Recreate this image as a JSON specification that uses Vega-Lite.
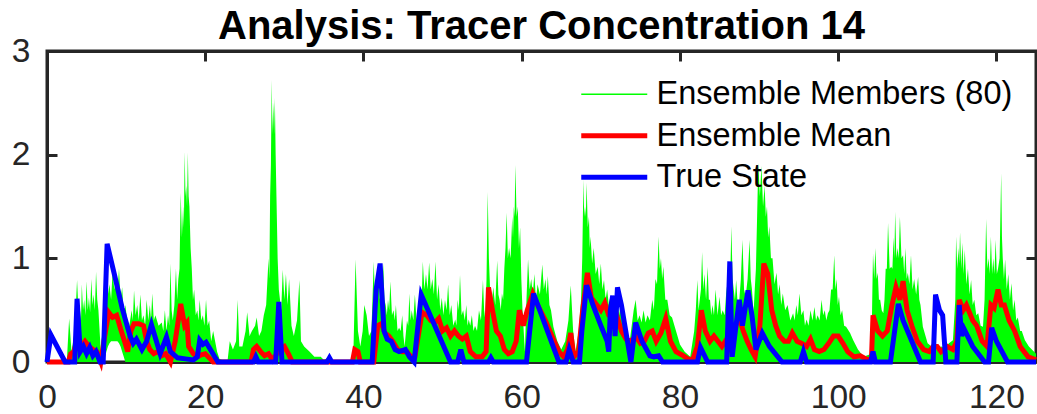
{
  "$schema": "https://vega.github.io/schema/vega-lite/v6.json",
  "width": 989,
  "height": 311,
  "autosize": {"type": "none"},
  "padding": {"left": 47, "top": 51, "right": 1, "bottom": 52},
  "background": "white",
  "title": {"text": "Analysis: Tracer Concentration 14", "fontSize": 40, "fontWeight": "bold", "font": "Liberation Sans", "color": "black", "anchor": "middle", "frame": "group", "offset": -13},
  "config": {"view": {"stroke": "#262626", "strokeWidth": 3}, "font": "Liberation Sans",
    "legend": {"orient": "none", "legendX": 551, "legendY": 27, "title": null, "padding": 0,
               "symbolType": "M-3,0H3", "symbolSize": 484,
               "labelFontSize": 32.5, "labelFont": "Liberation Sans", "labelColor": "black", "labelOffset": 26, "labelLimit": 600, "rowPadding": 8.5}},
  "datasets": {
    "ens": [
      {"x":0,"hi":0,"lo":0},{"x":2.5,"hi":0,"lo":0},{"x":2.8,"hi":0.42,"lo":0},{"x":3.1,"hi":0.1,"lo":0},{"x":3.5,"hi":0.3,"lo":0},{"x":3.8,"hi":0.79,"lo":0},{"x":4.0,"hi":0.45,"lo":0},{"x":4.1,"hi":0.55,"lo":0},{"x":4.3,"hi":0.4,"lo":0},{"x":4.4,"hi":0.75,"lo":0},{"x":4.55,"hi":0.5,"lo":0},{"x":4.7,"hi":0.6,"lo":0},{"x":4.85,"hi":0.45,"lo":0},{"x":5,"hi":0.78,"lo":0},{"x":5.15,"hi":0.5,"lo":0},{"x":5.3,"hi":0.62,"lo":0},{"x":5.45,"hi":0.48,"lo":0},{"x":5.6,"hi":0.8,"lo":0},{"x":5.75,"hi":0.55,"lo":0},{"x":5.9,"hi":0.65,"lo":0},{"x":6.05,"hi":0.5,"lo":0},{"x":6.2,"hi":0.87,"lo":0},{"x":6.35,"hi":0.6,"lo":0},{"x":6.5,"hi":0.5,"lo":0},{"x":6.8,"hi":0.1,"lo":0},{"x":7.2,"hi":0.5,"lo":0},{"x":7.35,"hi":0.7,"lo":0.05},{"x":7.5,"hi":0.85,"lo":0.1},{"x":7.7,"hi":0.65,"lo":0.15},{"x":7.9,"hi":0.75,"lo":0.18},{"x":8.1,"hi":0.6,"lo":0.2},{"x":8.3,"hi":0.88,"lo":0.2},{"x":8.5,"hi":0.7,"lo":0.2},{"x":8.7,"hi":0.8,"lo":0.2},{"x":8.9,"hi":0.65,"lo":0.2},{"x":9.1,"hi":0.9,"lo":0.18},{"x":9.3,"hi":0.6,"lo":0.15},{"x":9.5,"hi":0.72,"lo":0.1},{"x":9.7,"hi":0.45,"lo":0.05},{"x":9.9,"hi":0.55,"lo":0},{"x":10.3,"hi":0.3,"lo":0},{"x":10.7,"hi":0.5,"lo":0},{"x":10.85,"hi":0.4,"lo":0},{"x":11,"hi":0.69,"lo":0},{"x":11.2,"hi":0.45,"lo":0},{"x":11.4,"hi":0.55,"lo":0},{"x":11.6,"hi":0.4,"lo":0},{"x":11.8,"hi":0.65,"lo":0},{"x":12,"hi":0.4,"lo":0},{"x":12.2,"hi":0.45,"lo":0},{"x":12.4,"hi":0.35,"lo":0},{"x":12.6,"hi":0.6,"lo":0},{"x":12.8,"hi":0.4,"lo":0},{"x":13,"hi":0.55,"lo":0},{"x":13.15,"hi":0.4,"lo":0},{"x":13.3,"hi":0.66,"lo":0},{"x":13.5,"hi":0.4,"lo":0},{"x":13.7,"hi":0.45,"lo":0},{"x":14.1,"hi":0.35,"lo":0},{"x":14.5,"hi":0.38,"lo":0},{"x":14.7,"hi":0.3,"lo":0},{"x":14.9,"hi":0.5,"lo":0},{"x":15.1,"hi":0.3,"lo":0},{"x":15.3,"hi":0.45,"lo":0},{"x":15.45,"hi":0.35,"lo":0},{"x":15.6,"hi":0.95,"lo":0},{"x":15.75,"hi":0.5,"lo":0},{"x":15.9,"hi":0.4,"lo":0},{"x":16.1,"hi":0.55,"lo":0},{"x":16.3,"hi":0.9,"lo":0},{"x":16.45,"hi":0.6,"lo":0},{"x":16.6,"hi":0.8,"lo":0},{"x":16.75,"hi":0.9,"lo":0},{"x":16.9,"hi":1.63,"lo":0},{"x":17.05,"hi":1.2,"lo":0},{"x":17.2,"hi":1.5,"lo":0},{"x":17.3,"hi":1.3,"lo":0},{"x":17.4,"hi":2.03,"lo":0},{"x":17.5,"hi":1.6,"lo":0},{"x":17.6,"hi":1.7,"lo":0},{"x":17.7,"hi":1.5,"lo":0},{"x":17.8,"hi":2.02,"lo":0},{"x":17.9,"hi":1.6,"lo":0},{"x":18,"hi":1.5,"lo":0},{"x":18.15,"hi":1.1,"lo":0},{"x":18.3,"hi":0.9,"lo":0},{"x":18.45,"hi":0.6,"lo":0},{"x":18.6,"hi":0.7,"lo":0},{"x":18.8,"hi":0.45,"lo":0},{"x":19,"hi":0.5,"lo":0},{"x":19.15,"hi":0.4,"lo":0},{"x":19.3,"hi":0.6,"lo":0},{"x":19.5,"hi":0.4,"lo":0},{"x":19.7,"hi":0.45,"lo":0},{"x":19.9,"hi":0.35,"lo":0},{"x":20.1,"hi":0.6,"lo":0},{"x":20.3,"hi":0.35,"lo":0},{"x":20.5,"hi":0.4,"lo":0},{"x":20.75,"hi":0.2,"lo":0},{"x":21,"hi":0.3,"lo":0},{"x":21.5,"hi":0.1,"lo":0},{"x":21.8,"hi":0.03,"lo":0},{"x":22.8,"hi":0,"lo":0},{"x":23.1,"hi":0.2,"lo":0},{"x":23.5,"hi":0.12,"lo":0},{"x":23.9,"hi":0.2,"lo":0},{"x":24.1,"hi":0.6,"lo":0},{"x":24.3,"hi":0.15,"lo":0},{"x":24.7,"hi":0.15,"lo":0},{"x":25.1,"hi":0.3,"lo":0},{"x":25.3,"hi":0.48,"lo":0},{"x":25.6,"hi":0.25,"lo":0},{"x":25.9,"hi":0.3,"lo":0},{"x":26.3,"hi":0.35,"lo":0},{"x":26.5,"hi":0.43,"lo":0},{"x":26.8,"hi":0.25,"lo":0},{"x":27.1,"hi":0.3,"lo":0},{"x":27.4,"hi":0.45,"lo":0},{"x":27.7,"hi":0.55,"lo":0},{"x":28,"hi":1.0,"lo":0},{"x":28.1,"hi":0.8,"lo":0},{"x":28.2,"hi":1.6,"lo":0},{"x":28.3,"hi":1.9,"lo":0},{"x":28.4,"hi":2.72,"lo":0},{"x":28.5,"hi":2.2,"lo":0},{"x":28.6,"hi":2.5,"lo":0},{"x":28.7,"hi":2.2,"lo":0},{"x":28.8,"hi":2.55,"lo":0},{"x":28.9,"hi":2.0,"lo":0},{"x":29,"hi":1.6,"lo":0},{"x":29.15,"hi":1.0,"lo":0},{"x":29.3,"hi":0.7,"lo":0},{"x":29.6,"hi":0.5,"lo":0},{"x":29.8,"hi":0.89,"lo":0},{"x":30,"hi":0.6,"lo":0},{"x":30.2,"hi":0.85,"lo":0},{"x":30.4,"hi":0.55,"lo":0},{"x":30.6,"hi":0.8,"lo":0},{"x":30.9,"hi":0.35,"lo":0},{"x":31.2,"hi":0.25,"lo":0},{"x":31.6,"hi":0.4,"lo":0},{"x":31.9,"hi":0.79,"lo":0},{"x":32.1,"hi":0.2,"lo":0},{"x":32.5,"hi":0.15,"lo":0},{"x":33.2,"hi":0.1,"lo":0},{"x":33.8,"hi":0.05,"lo":0},{"x":34.6,"hi":0.05,"lo":0},{"x":35,"hi":0.02,"lo":0},{"x":35.7,"hi":0.05,"lo":0},{"x":36.2,"hi":0,"lo":0},{"x":38.7,"hi":0,"lo":0},{"x":39,"hi":0.99,"lo":0},{"x":39.3,"hi":0.3,"lo":0},{"x":39.6,"hi":0.15,"lo":0},{"x":39.9,"hi":0.3,"lo":0},{"x":40.1,"hi":0.55,"lo":0},{"x":40.4,"hi":0.45,"lo":0},{"x":40.7,"hi":0.25,"lo":0},{"x":41,"hi":0.3,"lo":0},{"x":41.3,"hi":0.97,"lo":0},{"x":41.45,"hi":0.6,"lo":0},{"x":41.6,"hi":0.75,"lo":0},{"x":41.75,"hi":0.55,"lo":0},{"x":41.9,"hi":0.9,"lo":0},{"x":42.05,"hi":0.6,"lo":0},{"x":42.2,"hi":0.7,"lo":0},{"x":42.35,"hi":0.6,"lo":0},{"x":42.5,"hi":0.95,"lo":0},{"x":42.65,"hi":0.6,"lo":0},{"x":42.8,"hi":0.55,"lo":0},{"x":42.95,"hi":0.45,"lo":0},{"x":43.1,"hi":0.6,"lo":0},{"x":43.25,"hi":0.5,"lo":0},{"x":43.4,"hi":0.78,"lo":0},{"x":43.6,"hi":0.45,"lo":0},{"x":43.8,"hi":0.5,"lo":0},{"x":43.95,"hi":0.4,"lo":0},{"x":44.1,"hi":0.55,"lo":0},{"x":44.3,"hi":0.3,"lo":0},{"x":44.5,"hi":0.33,"lo":0},{"x":44.7,"hi":0.3,"lo":0},{"x":44.9,"hi":0.45,"lo":0},{"x":45.05,"hi":0.25,"lo":0},{"x":45.2,"hi":0.15,"lo":0},{"x":45.5,"hi":0.4,"lo":0},{"x":45.65,"hi":0.35,"lo":0},{"x":45.8,"hi":0.66,"lo":0},{"x":45.95,"hi":0.4,"lo":0},{"x":46.1,"hi":0.5,"lo":0},{"x":46.3,"hi":0.4,"lo":0},{"x":46.5,"hi":0.65,"lo":0},{"x":46.7,"hi":0.4,"lo":0},{"x":46.9,"hi":0.3,"lo":0},{"x":47.2,"hi":0.7,"lo":0},{"x":47.35,"hi":0.6,"lo":0},{"x":47.5,"hi":0.97,"lo":0},{"x":47.7,"hi":0.7,"lo":0},{"x":47.9,"hi":0.85,"lo":0},{"x":48.1,"hi":0.7,"lo":0},{"x":48.3,"hi":0.96,"lo":0},{"x":48.5,"hi":0.7,"lo":0},{"x":48.7,"hi":0.8,"lo":0},{"x":48.9,"hi":0.65,"lo":0},{"x":49.1,"hi":0.97,"lo":0},{"x":49.3,"hi":0.6,"lo":0},{"x":49.5,"hi":0.75,"lo":0},{"x":49.7,"hi":0.5,"lo":0},{"x":49.9,"hi":0.62,"lo":0},{"x":50.1,"hi":0.45,"lo":0},{"x":50.3,"hi":0.6,"lo":0},{"x":50.5,"hi":0.5,"lo":0},{"x":50.7,"hi":0.75,"lo":0},{"x":50.9,"hi":0.45,"lo":0},{"x":51.1,"hi":0.55,"lo":0},{"x":51.35,"hi":0.35,"lo":0},{"x":51.6,"hi":0.41,"lo":0},{"x":51.75,"hi":0.35,"lo":0},{"x":51.9,"hi":0.6,"lo":0},{"x":52.05,"hi":0.5,"lo":0},{"x":52.2,"hi":0.84,"lo":0},{"x":52.4,"hi":0.45,"lo":0},{"x":52.6,"hi":0.5,"lo":0},{"x":52.8,"hi":0.4,"lo":0},{"x":53,"hi":0.55,"lo":0},{"x":53.15,"hi":0.35,"lo":0},{"x":53.3,"hi":0.41,"lo":0},{"x":53.5,"hi":0.35,"lo":0},{"x":53.7,"hi":0.45,"lo":0},{"x":53.9,"hi":0.3,"lo":0},{"x":54.1,"hi":0.35,"lo":0},{"x":54.35,"hi":0.3,"lo":0},{"x":54.6,"hi":0.5,"lo":0},{"x":54.85,"hi":0.4,"lo":0},{"x":55.1,"hi":0.79,"lo":0},{"x":55.25,"hi":0.5,"lo":0},{"x":55.4,"hi":0.4,"lo":0},{"x":55.55,"hi":0.8,"lo":0},{"x":55.7,"hi":1.64,"lo":0},{"x":55.85,"hi":1.0,"lo":0},{"x":56,"hi":0.7,"lo":0},{"x":56.2,"hi":0.55,"lo":0},{"x":56.4,"hi":0.72,"lo":0},{"x":56.65,"hi":0.55,"lo":0},{"x":56.9,"hi":0.98,"lo":0},{"x":57.05,"hi":0.65,"lo":0},{"x":57.2,"hi":0.6,"lo":0},{"x":57.35,"hi":0.5,"lo":0},{"x":57.5,"hi":0.66,"lo":0},{"x":57.65,"hi":0.6,"lo":0},{"x":57.8,"hi":0.9,"lo":0},{"x":57.95,"hi":1.1,"lo":0},{"x":58.1,"hi":1.44,"lo":0},{"x":58.25,"hi":1.0,"lo":0},{"x":58.4,"hi":1.1,"lo":0},{"x":58.6,"hi":1.0,"lo":0},{"x":58.8,"hi":1.4,"lo":0},{"x":58.9,"hi":1.2,"lo":0},{"x":59,"hi":1.5,"lo":0},{"x":59.1,"hi":1.4,"lo":0},{"x":59.2,"hi":1.9,"lo":0},{"x":59.35,"hi":1.4,"lo":0},{"x":59.5,"hi":1.5,"lo":0},{"x":59.65,"hi":1.1,"lo":0},{"x":59.8,"hi":1.3,"lo":0},{"x":59.95,"hi":0.8,"lo":0},{"x":60.1,"hi":0.5,"lo":0},{"x":60.4,"hi":0.1,"lo":0},{"x":60.6,"hi":0.6,"lo":0},{"x":60.8,"hi":0.99,"lo":0},{"x":61,"hi":0.7,"lo":0},{"x":61.2,"hi":0.8,"lo":0},{"x":61.4,"hi":0.65,"lo":0},{"x":61.6,"hi":0.85,"lo":0},{"x":61.8,"hi":0.6,"lo":0},{"x":62,"hi":0.75,"lo":0},{"x":62.3,"hi":0.65,"lo":0},{"x":62.6,"hi":0.94,"lo":0},{"x":62.8,"hi":0.7,"lo":0},{"x":63,"hi":0.8,"lo":0},{"x":63.15,"hi":0.65,"lo":0},{"x":63.3,"hi":0.83,"lo":0},{"x":63.5,"hi":0.55,"lo":0},{"x":63.7,"hi":0.5,"lo":0},{"x":64,"hi":0.34,"lo":0},{"x":64.5,"hi":0.2,"lo":0},{"x":65,"hi":0.12,"lo":0},{"x":65.5,"hi":0.2,"lo":0},{"x":65.9,"hi":0.4,"lo":0},{"x":66.2,"hi":0.74,"lo":0},{"x":66.5,"hi":0.3,"lo":0},{"x":66.8,"hi":0.1,"lo":0},{"x":67.2,"hi":0.3,"lo":0},{"x":67.5,"hi":0.6,"lo":0},{"x":67.65,"hi":1.0,"lo":0},{"x":67.8,"hi":1.76,"lo":0},{"x":67.9,"hi":1.4,"lo":0},{"x":68,"hi":1.5,"lo":0},{"x":68.1,"hi":1.4,"lo":0},{"x":68.2,"hi":1.73,"lo":0},{"x":68.35,"hi":1.3,"lo":0},{"x":68.5,"hi":1.4,"lo":0},{"x":68.6,"hi":1.1,"lo":0},{"x":68.7,"hi":1.21,"lo":0},{"x":68.9,"hi":0.95,"lo":0},{"x":69.1,"hi":1.1,"lo":0},{"x":69.35,"hi":0.85,"lo":0},{"x":69.6,"hi":0.92,"lo":0},{"x":69.8,"hi":0.75,"lo":0},{"x":70,"hi":0.95,"lo":0},{"x":70.2,"hi":0.7,"lo":0},{"x":70.4,"hi":0.79,"lo":0},{"x":70.6,"hi":0.6,"lo":0},{"x":70.8,"hi":0.7,"lo":0},{"x":71,"hi":0.55,"lo":0},{"x":71.2,"hi":0.63,"lo":0},{"x":71.4,"hi":0.5,"lo":0},{"x":71.6,"hi":0.65,"lo":0},{"x":71.85,"hi":0.5,"lo":0},{"x":72.1,"hi":0.6,"lo":0},{"x":72.3,"hi":0.45,"lo":0},{"x":72.5,"hi":0.55,"lo":0},{"x":72.7,"hi":0.38,"lo":0},{"x":72.9,"hi":0.43,"lo":0},{"x":73.2,"hi":0.3,"lo":0},{"x":73.5,"hi":0.11,"lo":0},{"x":73.9,"hi":0.35,"lo":0},{"x":74.15,"hi":0.5,"lo":0},{"x":74.4,"hi":0.6,"lo":0},{"x":74.65,"hi":0.4,"lo":0},{"x":74.9,"hi":0.45,"lo":0},{"x":75.15,"hi":0.38,"lo":0},{"x":75.4,"hi":0.5,"lo":0},{"x":75.65,"hi":0.38,"lo":0},{"x":75.9,"hi":0.45,"lo":0},{"x":76.2,"hi":0.4,"lo":0},{"x":76.5,"hi":0.6,"lo":0},{"x":76.7,"hi":0.5,"lo":0},{"x":76.9,"hi":0.8,"lo":0},{"x":77.1,"hi":0.75,"lo":0},{"x":77.3,"hi":1.21,"lo":0},{"x":77.45,"hi":0.9,"lo":0},{"x":77.6,"hi":1.0,"lo":0},{"x":77.75,"hi":0.8,"lo":0},{"x":77.9,"hi":0.92,"lo":0},{"x":78.15,"hi":0.6,"lo":0},{"x":78.4,"hi":0.6,"lo":0},{"x":78.7,"hi":0.45,"lo":0},{"x":79,"hi":0.43,"lo":0},{"x":79.5,"hi":0.3,"lo":0},{"x":80,"hi":0.17,"lo":0},{"x":80.6,"hi":0.1,"lo":0},{"x":81.3,"hi":0.05,"lo":0},{"x":81.8,"hi":0.3,"lo":0},{"x":82,"hi":0.5,"lo":0},{"x":82.2,"hi":0.79,"lo":0},{"x":82.35,"hi":0.5,"lo":0},{"x":82.5,"hi":0.6,"lo":0},{"x":82.65,"hi":0.7,"lo":0},{"x":82.8,"hi":1.06,"lo":0},{"x":82.95,"hi":0.7,"lo":0},{"x":83.1,"hi":0.85,"lo":0},{"x":83.3,"hi":0.6,"lo":0},{"x":83.5,"hi":0.92,"lo":0},{"x":83.65,"hi":0.6,"lo":0},{"x":83.8,"hi":0.6,"lo":0},{"x":83.95,"hi":0.45,"lo":0},{"x":84.1,"hi":0.55,"lo":0},{"x":84.3,"hi":0.45,"lo":0},{"x":84.5,"hi":0.7,"lo":0},{"x":84.75,"hi":0.45,"lo":0},{"x":85,"hi":0.63,"lo":0},{"x":85.2,"hi":0.45,"lo":0},{"x":85.4,"hi":0.5,"lo":0},{"x":85.65,"hi":0.45,"lo":0},{"x":85.9,"hi":0.73,"lo":0},{"x":86.05,"hi":0.5,"lo":0},{"x":86.2,"hi":0.6,"lo":0},{"x":86.35,"hi":0.8,"lo":0},{"x":86.5,"hi":1.31,"lo":0},{"x":86.65,"hi":0.8,"lo":0},{"x":86.8,"hi":0.7,"lo":0},{"x":86.95,"hi":0.6,"lo":0},{"x":87.1,"hi":0.79,"lo":0},{"x":87.3,"hi":0.55,"lo":0},{"x":87.5,"hi":0.6,"lo":0},{"x":87.7,"hi":0.8,"lo":0},{"x":87.9,"hi":1.18,"lo":0},{"x":88.1,"hi":0.7,"lo":0},{"x":88.3,"hi":0.63,"lo":0},{"x":88.55,"hi":0.8,"lo":0},{"x":88.8,"hi":1.18,"lo":0},{"x":88.95,"hi":0.8,"lo":0},{"x":89.1,"hi":0.7,"lo":0},{"x":89.3,"hi":0.47,"lo":0},{"x":89.45,"hi":0.7,"lo":0},{"x":89.6,"hi":0.9,"lo":0},{"x":89.75,"hi":1.4,"lo":0},{"x":89.9,"hi":1.92,"lo":0},{"x":90.1,"hi":1.6,"lo":0},{"x":90.3,"hi":1.89,"lo":0},{"x":90.5,"hi":1.5,"lo":0},{"x":90.7,"hi":1.7,"lo":0},{"x":90.85,"hi":1.4,"lo":0},{"x":91,"hi":1.5,"lo":0},{"x":91.15,"hi":1.2,"lo":0},{"x":91.3,"hi":1.31,"lo":0},{"x":91.5,"hi":1.0,"lo":0},{"x":91.7,"hi":1.0,"lo":0},{"x":91.95,"hi":0.75,"lo":0},{"x":92.2,"hi":0.86,"lo":0},{"x":92.4,"hi":0.65,"lo":0},{"x":92.6,"hi":0.75,"lo":0},{"x":92.8,"hi":0.55,"lo":0},{"x":93,"hi":0.66,"lo":0},{"x":93.3,"hi":0.5,"lo":0},{"x":93.6,"hi":0.55,"lo":0},{"x":93.95,"hi":0.4,"lo":0},{"x":94.3,"hi":0.47,"lo":0},{"x":94.5,"hi":0.4,"lo":0},{"x":94.7,"hi":0.55,"lo":0},{"x":94.9,"hi":0.45,"lo":0},{"x":95.1,"hi":0.66,"lo":0},{"x":95.35,"hi":0.45,"lo":0},{"x":95.6,"hi":0.5,"lo":0},{"x":95.8,"hi":0.35,"lo":0},{"x":96,"hi":0.41,"lo":0},{"x":96.25,"hi":0.35,"lo":0},{"x":96.5,"hi":0.5,"lo":0},{"x":96.75,"hi":0.4,"lo":0},{"x":97,"hi":0.53,"lo":0},{"x":97.2,"hi":0.4,"lo":0},{"x":97.4,"hi":0.45,"lo":0},{"x":97.65,"hi":0.4,"lo":0},{"x":97.9,"hi":0.6,"lo":0},{"x":98.1,"hi":0.45,"lo":0},{"x":98.3,"hi":0.5,"lo":0},{"x":98.5,"hi":0.4,"lo":0},{"x":98.7,"hi":0.47,"lo":0},{"x":98.9,"hi":0.5,"lo":0},{"x":99.1,"hi":0.7,"lo":0},{"x":99.3,"hi":0.7,"lo":0},{"x":99.5,"hi":1.03,"lo":0},{"x":99.65,"hi":0.7,"lo":0},{"x":99.8,"hi":0.8,"lo":0},{"x":99.95,"hi":0.55,"lo":0},{"x":100.1,"hi":0.63,"lo":0},{"x":100.3,"hi":0.45,"lo":0},{"x":100.5,"hi":0.5,"lo":0},{"x":100.75,"hi":0.35,"lo":0},{"x":101,"hi":0.34,"lo":0},{"x":101.5,"hi":0.28,"lo":0},{"x":101.9,"hi":0.21,"lo":0},{"x":102.5,"hi":0.12,"lo":0},{"x":103.2,"hi":0.05,"lo":0},{"x":104.2,"hi":0.08,"lo":0},{"x":104.3,"hi":0.6,"lo":0},{"x":104.4,"hi":1.05,"lo":0},{"x":104.55,"hi":0.8,"lo":0},{"x":104.7,"hi":1.1,"lo":0},{"x":104.85,"hi":0.8,"lo":0},{"x":105,"hi":0.86,"lo":0},{"x":105.15,"hi":0.6,"lo":0},{"x":105.3,"hi":0.6,"lo":0},{"x":105.5,"hi":0.5,"lo":0},{"x":105.7,"hi":0.47,"lo":0},{"x":105.85,"hi":0.6,"lo":0},{"x":106,"hi":0.9,"lo":0},{"x":106.15,"hi":0.9,"lo":0},{"x":106.3,"hi":1.34,"lo":0},{"x":106.5,"hi":0.9,"lo":0},{"x":106.7,"hi":0.92,"lo":0},{"x":106.85,"hi":0.9,"lo":0},{"x":107,"hi":1.2,"lo":0},{"x":107.1,"hi":1.0,"lo":0},{"x":107.2,"hi":1.45,"lo":0},{"x":107.35,"hi":1.0,"lo":0},{"x":107.5,"hi":1.1,"lo":0},{"x":107.65,"hi":1.0,"lo":0},{"x":107.8,"hi":1.4,"lo":0},{"x":108,"hi":1.0,"lo":0},{"x":108.2,"hi":1.03,"lo":0},{"x":108.35,"hi":0.85,"lo":0},{"x":108.5,"hi":1.1,"lo":0},{"x":108.65,"hi":0.8,"lo":0},{"x":108.8,"hi":0.86,"lo":0},{"x":109,"hi":0.75,"lo":0},{"x":109.2,"hi":1.03,"lo":0},{"x":109.4,"hi":0.7,"lo":0},{"x":109.6,"hi":0.8,"lo":0},{"x":109.85,"hi":0.65,"lo":0},{"x":110.1,"hi":0.82,"lo":0},{"x":110.25,"hi":0.6,"lo":0},{"x":110.4,"hi":0.55,"lo":0},{"x":110.7,"hi":0.34,"lo":0},{"x":111.3,"hi":0.18,"lo":0},{"x":111.8,"hi":0.15,"lo":0},{"x":112.2,"hi":0.11,"lo":0},{"x":113,"hi":0.15,"lo":0},{"x":113.5,"hi":0.14,"lo":0},{"x":114,"hi":0.18,"lo":0},{"x":114.5,"hi":0.21,"lo":0},{"x":114.8,"hi":0.6,"lo":0},{"x":114.9,"hi":1.21,"lo":0},{"x":115.05,"hi":0.9,"lo":0},{"x":115.2,"hi":1.1,"lo":0},{"x":115.3,"hi":0.95,"lo":0},{"x":115.4,"hi":1.25,"lo":0},{"x":115.55,"hi":0.9,"lo":0},{"x":115.7,"hi":1.15,"lo":0},{"x":115.85,"hi":0.85,"lo":0},{"x":116,"hi":1.08,"lo":0},{"x":116.2,"hi":0.75,"lo":0},{"x":116.4,"hi":0.9,"lo":0},{"x":116.6,"hi":0.65,"lo":0},{"x":116.8,"hi":0.79,"lo":0},{"x":117,"hi":0.55,"lo":0},{"x":117.2,"hi":0.6,"lo":0},{"x":117.45,"hi":0.45,"lo":0},{"x":117.7,"hi":0.47,"lo":0},{"x":118,"hi":0.35,"lo":0},{"x":118.3,"hi":0.34,"lo":0},{"x":118.5,"hi":0.6,"lo":0},{"x":118.6,"hi":1.0,"lo":0},{"x":118.7,"hi":1.38,"lo":0},{"x":118.85,"hi":0.9,"lo":0},{"x":119,"hi":1.0,"lo":0},{"x":119.15,"hi":0.85,"lo":0},{"x":119.3,"hi":1.21,"lo":0},{"x":119.45,"hi":0.85,"lo":0},{"x":119.6,"hi":1.0,"lo":0},{"x":119.75,"hi":0.85,"lo":0},{"x":119.9,"hi":1.18,"lo":0},{"x":120.05,"hi":0.85,"lo":0},{"x":120.2,"hi":0.9,"lo":0},{"x":120.4,"hi":1.0,"lo":0},{"x":120.5,"hi":1.4,"lo":0},{"x":120.6,"hi":1.82,"lo":0},{"x":120.7,"hi":1.2,"lo":0},{"x":120.8,"hi":1.0,"lo":0},{"x":120.95,"hi":0.8,"lo":0},{"x":121.1,"hi":0.99,"lo":0},{"x":121.3,"hi":0.7,"lo":0},{"x":121.5,"hi":0.85,"lo":0},{"x":121.7,"hi":0.6,"lo":0},{"x":121.9,"hi":0.76,"lo":0},{"x":122.1,"hi":0.5,"lo":0},{"x":122.3,"hi":0.6,"lo":0},{"x":122.5,"hi":0.4,"lo":0},{"x":122.7,"hi":0.43,"lo":0},{"x":123,"hi":0.3,"lo":0},{"x":123.2,"hi":0.3,"lo":0},{"x":123.6,"hi":0.21,"lo":0},{"x":124.1,"hi":0.15,"lo":0},{"x":124.6,"hi":0.11,"lo":0},{"x":125,"hi":0.08,"lo":0}
    ],
    "mean": [
      {"x":0,"v":0},{"x":2.7,"v":0},{"x":3,"v":0.08},{"x":3.4,"v":0.1},{"x":3.8,"v":0.22},{"x":4.3,"v":0.15},{"x":4.8,"v":0.2},{"x":5.3,"v":0.15},{"x":5.8,"v":0.12},{"x":6.3,"v":0.1},{"x":6.8,"v":0},{"x":7.3,"v":0.25},{"x":7.8,"v":0.48},{"x":8.3,"v":0.43},{"x":8.8,"v":0.45},{"x":9.3,"v":0.32},{"x":9.8,"v":0.2},{"x":10.2,"v":0.1},{"x":10.6,"v":0.3},{"x":11,"v":0.37},{"x":11.6,"v":0.37},{"x":12.2,"v":0.35},{"x":12.6,"v":0.2},{"x":13,"v":0.12},{"x":13.5,"v":0.08},{"x":14,"v":0.1},{"x":14.5,"v":0.06},{"x":15,"v":0.08},{"x":15.6,"v":0},{"x":16.2,"v":0.2},{"x":16.9,"v":0.56},{"x":17.4,"v":0.35},{"x":17.7,"v":0.38},{"x":17.9,"v":0.15},{"x":18.5,"v":0.08},{"x":19,"v":0.05},{"x":19.5,"v":0.07},{"x":20,"v":0.08},{"x":20.5,"v":0.04},{"x":21,"v":0},{"x":25.8,"v":0},{"x":26.1,"v":0.12},{"x":26.5,"v":0.15},{"x":27,"v":0.1},{"x":27.5,"v":0.06},{"x":28,"v":0.08},{"x":28.5,"v":0.02},{"x":29.5,"v":0.13},{"x":30,"v":0.15},{"x":30.5,"v":0.08},{"x":31,"v":0},{"x":38.6,"v":0},{"x":38.9,"v":0.12},{"x":39.3,"v":0.1},{"x":39.6,"v":0},{"x":41.3,"v":0},{"x":41.8,"v":0.35},{"x":42.3,"v":0.37},{"x":42.7,"v":0.28},{"x":43.2,"v":0.25},{"x":43.7,"v":0.2},{"x":44.3,"v":0.12},{"x":44.9,"v":0.1},{"x":45.5,"v":0.1},{"x":46,"v":0.05},{"x":46.5,"v":0.05},{"x":47.4,"v":0.48},{"x":48,"v":0.45},{"x":48.5,"v":0.4},{"x":49,"v":0.38},{"x":49.5,"v":0.42},{"x":50,"v":0.3},{"x":50.5,"v":0.33},{"x":51,"v":0.25},{"x":51.5,"v":0.3},{"x":52,"v":0.25},{"x":52.5,"v":0.22},{"x":53,"v":0.25},{"x":53.5,"v":0.1},{"x":54.2,"v":0.05},{"x":55,"v":0.05},{"x":55.5,"v":0.1},{"x":55.8,"v":0.72},{"x":56.3,"v":0.5},{"x":56.8,"v":0.3},{"x":57.3,"v":0.25},{"x":57.8,"v":0.12},{"x":58.3,"v":0.08},{"x":58.8,"v":0.1},{"x":59.3,"v":0.2},{"x":59.7,"v":0.5},{"x":60.2,"v":0.35},{"x":60.7,"v":0.5},{"x":61.4,"v":0.66},{"x":62,"v":0.55},{"x":63,"v":0.4},{"x":64,"v":0.22},{"x":64.7,"v":0.1},{"x":65.3,"v":0.05},{"x":65.8,"v":0.12},{"x":66.2,"v":0.28},{"x":66.6,"v":0.05},{"x":67.2,"v":0.1},{"x":67.7,"v":0.5},{"x":68.3,"v":0.86},{"x":68.8,"v":0.62},{"x":69.5,"v":0.55},{"x":70,"v":0.5},{"x":70.5,"v":0.57},{"x":71,"v":0.45},{"x":71.5,"v":0.42},{"x":72,"v":0.45},{"x":72.6,"v":0.3},{"x":73.2,"v":0.22},{"x":73.8,"v":0.2},{"x":74.4,"v":0.25},{"x":75,"v":0.18},{"x":75.5,"v":0.2},{"x":76,"v":0.28},{"x":76.5,"v":0.3},{"x":77,"v":0.2},{"x":77.6,"v":0.28},{"x":78.2,"v":0.42},{"x":78.8,"v":0.2},{"x":79.5,"v":0.1},{"x":80.2,"v":0.07},{"x":81,"v":0.03},{"x":81.6,"v":0.02},{"x":82.2,"v":0.15},{"x":82.7,"v":0.5},{"x":83.2,"v":0.3},{"x":83.8,"v":0.2},{"x":84.3,"v":0.25},{"x":84.8,"v":0.2},{"x":85.3,"v":0.15},{"x":85.9,"v":0.22},{"x":86.4,"v":0.1},{"x":87,"v":0.35},{"x":87.5,"v":0.42},{"x":88,"v":0.3},{"x":88.5,"v":0.2},{"x":89,"v":0.12},{"x":89.5,"v":0.05},{"x":90.1,"v":0.35},{"x":90.6,"v":0.95},{"x":91.1,"v":0.85},{"x":91.6,"v":0.5},{"x":92.1,"v":0.35},{"x":92.6,"v":0.25},{"x":93.2,"v":0.2},{"x":93.7,"v":0.2},{"x":94.2,"v":0.28},{"x":94.8,"v":0.2},{"x":95.4,"v":0.18},{"x":96,"v":0.15},{"x":96.5,"v":0.22},{"x":97,"v":0.12},{"x":97.6,"v":0.1},{"x":98.2,"v":0.12},{"x":98.8,"v":0.18},{"x":99.4,"v":0.25},{"x":100,"v":0.25},{"x":100.6,"v":0.18},{"x":101.2,"v":0.1},{"x":102,"v":0.05},{"x":102.8,"v":0.06},{"x":103.5,"v":0.03},{"x":104.2,"v":0.02},{"x":104.4,"v":0.45},{"x":105,"v":0.3},{"x":105.6,"v":0.25},{"x":106.2,"v":0.3},{"x":106.8,"v":0.55},{"x":107.3,"v":0.72},{"x":107.8,"v":0.6},{"x":108.2,"v":0.78},{"x":108.7,"v":0.5},{"x":109.3,"v":0.35},{"x":110,"v":0.2},{"x":110.8,"v":0.12},{"x":111.5,"v":0.1},{"x":112,"v":0.15},{"x":112.5,"v":0.15},{"x":113,"v":0.1},{"x":113.8,"v":0.15},{"x":114.5,"v":0.12},{"x":115,"v":0.2},{"x":115.3,"v":0.6},{"x":115.8,"v":0.5},{"x":116.2,"v":0.55},{"x":117,"v":0.4},{"x":117.5,"v":0.35},{"x":118.2,"v":0.2},{"x":118.8,"v":0.15},{"x":119.3,"v":0.55},{"x":119.7,"v":0.52},{"x":120.2,"v":0.7},{"x":120.6,"v":0.55},{"x":121,"v":0.55},{"x":121.6,"v":0.4},{"x":122.3,"v":0.3},{"x":123,"v":0.15},{"x":124,"v":0.05},{"x":125,"v":0.02}
    ],
    "truth": [
      {"x":0,"v":0},{"x":0.5,"v":0.26},{"x":2.3,"v":0},{"x":3.5,"v":0},{"x":3.8,"v":0.61},{"x":4.2,"v":0.1},{"x":4.6,"v":0.15},{"x":5,"v":0.08},{"x":5.4,"v":0.14},{"x":5.8,"v":0.06},{"x":6.2,"v":0.1},{"x":6.7,"v":0},{"x":7.1,"v":0},{"x":7.6,"v":1.14},{"x":8.5,"v":0.85},{"x":9.5,"v":0.52},{"x":10.5,"v":0.25},{"x":10.9,"v":0.18},{"x":11.3,"v":0.22},{"x":12,"v":0.12},{"x":12.6,"v":0.2},{"x":13.2,"v":0.36},{"x":14.3,"v":0.08},{"x":15.1,"v":0.24},{"x":15.6,"v":0.1},{"x":16.5,"v":0.04},{"x":17.5,"v":0.03},{"x":18.5,"v":0.02},{"x":19,"v":0.05},{"x":19.3,"v":0.21},{"x":19.7,"v":0.17},{"x":20.1,"v":0.19},{"x":21.6,"v":0},{"x":26.1,"v":0},{"x":26.4,"v":0.05},{"x":26.7,"v":0},{"x":28.9,"v":0},{"x":29.3,"v":0.58},{"x":29.7,"v":0},{"x":35.4,"v":0},{"x":35.7,"v":0.04},{"x":36,"v":0},{"x":41.1,"v":0},{"x":41.6,"v":0.7},{"x":42.1,"v":0.95},{"x":42.6,"v":0.3},{"x":43,"v":0.22},{"x":43.5,"v":0.2},{"x":44,"v":0.12},{"x":44.5,"v":0.1},{"x":45.3,"v":0.12},{"x":45.8,"v":0.05},{"x":46.4,"v":0},{"x":47.3,"v":0.65},{"x":51,"v":0},{"x":51.9,"v":0},{"x":52.3,"v":0.12},{"x":52.7,"v":0},{"x":55.8,"v":0},{"x":56.1,"v":0.04},{"x":56.4,"v":0},{"x":60.6,"v":0},{"x":61.5,"v":0.66},{"x":64.7,"v":0},{"x":65.6,"v":0},{"x":66,"v":0.12},{"x":66.5,"v":0},{"x":67.3,"v":0},{"x":67.6,"v":0.3},{"x":68.2,"v":0.74},{"x":69,"v":0.55},{"x":70,"v":0.35},{"x":70.8,"v":0.2},{"x":71,"v":0.1},{"x":71.2,"v":0.5},{"x":71.5,"v":0.64},{"x":71.8,"v":0.25},{"x":72.1,"v":0.72},{"x":72.6,"v":0.55},{"x":73.8,"v":0},{"x":74.4,"v":0.38},{"x":75.2,"v":0.2},{"x":76.2,"v":0.06},{"x":76.7,"v":0.05},{"x":77.3,"v":0.06},{"x":77.8,"v":0},{"x":82.2,"v":0},{"x":82.6,"v":0.14},{"x":83.5,"v":0},{"x":85.9,"v":0},{"x":86.3,"v":0.97},{"x":86.6,"v":0.05},{"x":87,"v":0.3},{"x":87.5,"v":0.6},{"x":87.9,"v":0.35},{"x":88.6,"v":0.69},{"x":89.1,"v":0.45},{"x":89.6,"v":0.12},{"x":90.4,"v":0.28},{"x":91.3,"v":0.15},{"x":92.9,"v":0},{"x":95.2,"v":0},{"x":95.6,"v":0.1},{"x":96,"v":0},{"x":104.1,"v":0},{"x":104.4,"v":0.1},{"x":104.7,"v":0},{"x":106.6,"v":0},{"x":107.6,"v":0.56},{"x":108.2,"v":0.4},{"x":110.4,"v":0},{"x":112,"v":0},{"x":112.3,"v":0.65},{"x":112.8,"v":0.5},{"x":113.2,"v":0.45},{"x":113.6,"v":0},{"x":115,"v":0},{"x":115.3,"v":0.55},{"x":115.6,"v":0.25},{"x":115.9,"v":0.32},{"x":117,"v":0.15},{"x":118.5,"v":0},{"x":119,"v":0},{"x":119.4,"v":0.33},{"x":120,"v":0.2},{"x":121.4,"v":0},{"x":125,"v":0}
    ]
  },
  "layer": [
    {
      "data": {"name": "ens"},
      "mark": {"type": "area", "opacity": 1},
      "encoding": {
        "x": {"field": "x", "type": "quantitative", "scale": {"domain": [0, 125], "nice": false, "zero": false},
              "axis": {"orient": "bottom", "values": [0, 20, 40, 60, 80, 100, 120], "title": null, "grid": false, "domainColor": "#262626", "domainWidth": 3, "tickColor": "#262626", "tickWidth": 3, "tickSize": -10, "labelFontSize": 33.5, "labelFont": "Liberation Sans", "labelColor": "#262626", "labelPadding": 29, "labelFlush": false}},
        "y": {"field": "hi", "type": "quantitative", "scale": {"domain": [0, 3], "nice": false},
              "axis": {"orient": "left", "values": [0, 1, 2, 3], "title": null, "grid": false, "domainColor": "#262626", "domainWidth": 3, "tickColor": "#262626", "tickWidth": 3, "tickSize": -10, "labelFontSize": 33.5, "labelFont": "Liberation Sans", "labelColor": "#262626", "labelPadding": 27, "labelFlush": false}},
        "y2": {"field": "lo"},
        "color": {"datum": "Ensemble Members (80)", "type": "nominal",
                  "scale": {"domain": ["Ensemble Members (80)", "Ensemble Mean", "True State"], "range": ["#00ff00", "#ff0000", "#0000ff"]},
                  "legend": {"encode": {"symbols": {"update": {"stroke": {"scale": "color", "field": "value"}, "fill": {"value": "transparent"}, "opacity": {"value": 1}, "strokeWidth": {"signal": "datum.value === 'Ensemble Members (80)' ? 1.5 : 5"}}}}}}
      }
    },
    {
      "data": {"name": "mean"},
      "mark": {"type": "line", "strokeWidth": 5},
      "encoding": {
        "x": {"field": "x", "type": "quantitative",
              "axis": {"orient": "top", "values": [0, 20, 40, 60, 80, 100, 120], "title": null, "grid": false, "labels": false, "domainColor": "#262626", "domainWidth": 3, "tickColor": "#262626", "tickWidth": 3, "tickSize": -10}},
        "y": {"field": "v", "type": "quantitative",
              "axis": {"orient": "right", "values": [0, 1, 2, 3], "title": null, "grid": false, "labels": false, "domainColor": "#262626", "domainWidth": 3, "tickColor": "#262626", "tickWidth": 3, "tickSize": -10}},
        "color": {"datum": "Ensemble Mean", "type": "nominal",
                  "legend": {"encode": {"symbols": {"update": {"stroke": {"scale": "color", "field": "value"}, "fill": {"value": "transparent"}, "opacity": {"value": 1}, "strokeWidth": {"signal": "datum.value === 'Ensemble Members (80)' ? 1.5 : 5"}}}}}}
      }
    },
    {
      "data": {"name": "truth"},
      "mark": {"type": "line", "strokeWidth": 5},
      "encoding": {
        "x": {"field": "x", "type": "quantitative", "axis": null},
        "y": {"field": "v", "type": "quantitative", "axis": null},
        "color": {"datum": "True State", "type": "nominal",
                  "legend": {"encode": {"symbols": {"update": {"stroke": {"scale": "color", "field": "value"}, "fill": {"value": "transparent"}, "opacity": {"value": 1}, "strokeWidth": {"signal": "datum.value === 'Ensemble Members (80)' ? 1.5 : 5"}}}}}}
      }
    }
  ],
  "resolve": {"axis": {"x": "independent", "y": "independent"}}
}
